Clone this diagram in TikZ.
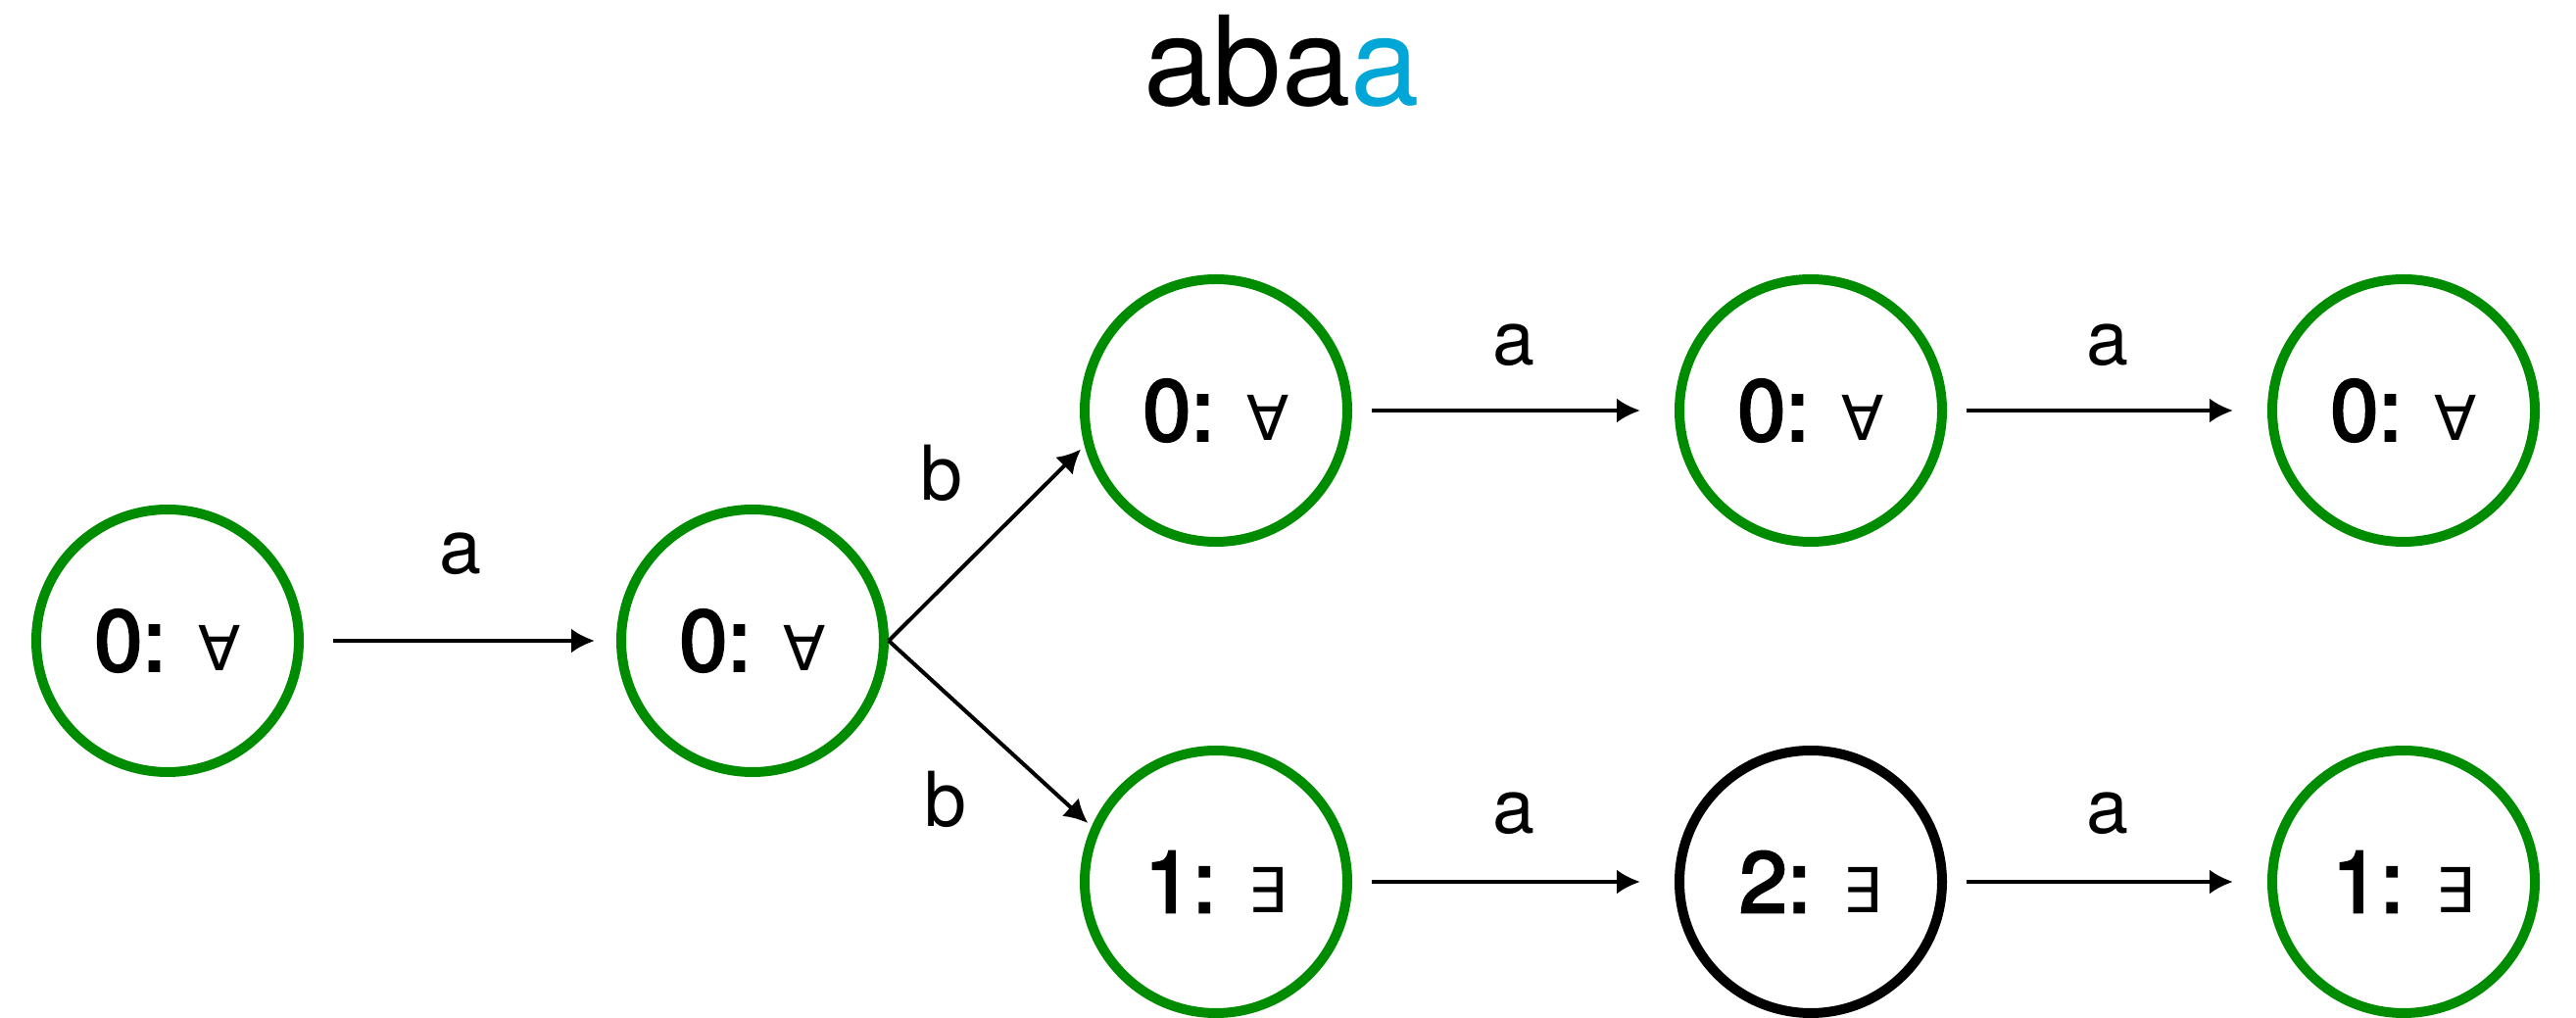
\documentclass[tikz,border=0pt]{standalone}
\usepackage{fontspec}
\setmainfont{TeX Gyre Heros}
\newfontfamily\statefont[FakeBold=3]{TeX Gyre Heros}
\newfontfamily\quantfont{DejaVu Sans}
\usepackage{tikz}
\usetikzlibrary{positioning}
\usetikzlibrary{arrows.meta}
\definecolor{accgreen}{RGB}{0,140,0}
\definecolor{wordblue}{RGB}{0,166,214}
\tikzset{state/.style={circle, draw=accgreen, line width=0.1cm, minimum size=2.68cm, inner sep=0pt, font=\fontsize{25}{30}\statefont}}
\tikzset{trans/.style={-{Latex[length=0.24cm,width=0.25cm]}, line width=0.04cm}}
\tikzset{lbl/.style={inner sep=0pt, font=\fontsize{22}{26}\selectfont}}
\newcommand{\qall}{{\fontsize{18}{22}\quantfont ∀}}
\newcommand{\qex}{{\fontsize{18}{22}\quantfont ∃}}

\begin{document}
\begin{tikzpicture}
\useasboundingbox (0,0) rectangle (26.29,10.39);
\node[anchor=base, font=\fontsize{36}{42}\selectfont] (word) at (13.08,9.31) {aba\textcolor{wordblue}{a}};
% first two states
\node[state] (n0) at (1.71,3.85) {0: \qall};
\node[state] (n1) at (7.68,3.85) {0: \qall};
% upper branch
\node[state] (t1) at (12.41,6.20) {0: \qall};
\node[state] (t2) at (18.48,6.20) {0: \qall};
\node[state] (t3) at (24.53,6.20) {0: \qall};
% lower branch
\node[state] (b1) at (12.41,1.39) {1: \qex};
\node[state, draw=black] (b2) at (18.48,1.39) {2: \qex};
\node[state] (b3) at (24.53,1.39) {1: \qex};
\draw[trans, shorten <=0.3cm, shorten >=0.22cm] (n0) -- node[lbl, midway, yshift=0.89cm] (l0) {a} (n1);
\draw[trans, shorten >=0.05cm] (n1.east) -- node[lbl, midway, xshift=-0.46cm, yshift=0.72cm] (l1) {b} (t1.195);
\draw[trans, shorten >=0.05cm] (n1.east) -- node[lbl, midway, xshift=-0.46cm, yshift=-0.67cm] (l2) {b} (b1.156);
\draw[trans, shorten <=0.2cm, shorten >=0.35cm] (t1) -- node[lbl, midway, yshift=0.67cm] (l3) {a} (t2);
\draw[trans, shorten <=0.2cm, shorten >=0.35cm] (t2) -- node[lbl, midway, yshift=0.67cm] (l4) {a} (t3);
\draw[trans, shorten <=0.2cm, shorten >=0.35cm] (b1) -- node[lbl, midway, yshift=0.70cm] (l5) {a} (b2);
\draw[trans, shorten <=0.2cm, shorten >=0.35cm] (b2) -- node[lbl, midway, yshift=0.70cm] (l6) {a} (b3);
\end{tikzpicture}
\end{document}
